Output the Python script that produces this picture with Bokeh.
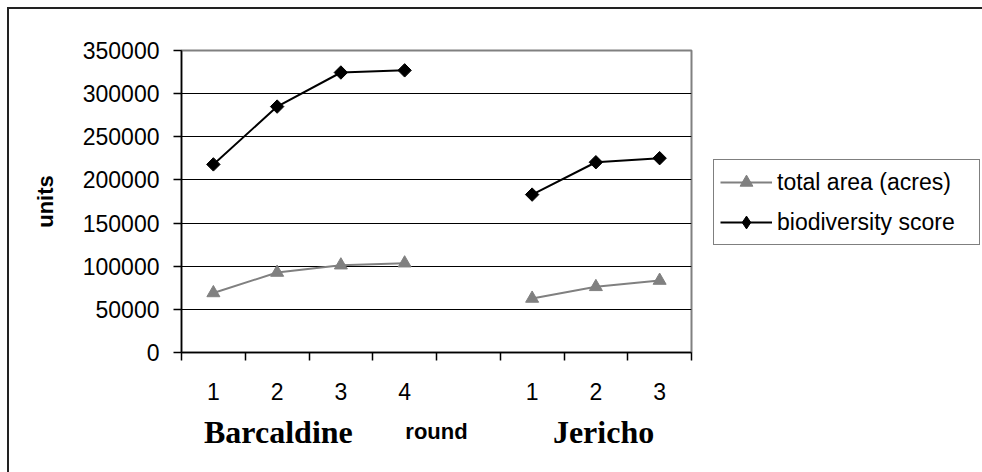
from bokeh.plotting import figure
from bokeh.layouts import row
from bokeh.models import (FixedTicker, Legend, LegendItem, LinearAxis,
                          BasicTickFormatter, Range1d, ColumnDataSource)
from bokeh.embed import file_html
from bokeh.resources import INLINE
import math

# ---- data ----
round_labels = ["1", "2", "3", "4", "", "1", "2", "3"]
total_area = [69000, 92700, 101200, 103500, None, 62600, 76100, 83400]
biodiversity = [218000, 285000, 324500, 327000, None, 183000, 220500, 225200]
y_ticks = [0, 50000, 100000, 150000, 200000, 250000, 300000, 350000]
group_names = ["Barcaldine", "Jericho"]
series_names = ["total area (acres)", "biodiversity score"]

nan = float("nan")
xs = [i + 0.5 for i in range(len(round_labels))]
src = ColumnDataSource(dict(
    x=xs,
    area=[nan if v is None else v for v in total_area],
    bio=[nan if v is None else v for v in biodiversity],
))

SANS = "Liberation Sans"
SERIF = "Liberation Serif"
GREY = "#808080"
TICK_FONT = "23px"

p = figure(width=693, height=472, output_backend="svg", toolbar_location=None,
           x_range=Range1d(0, len(round_labels)), y_range=Range1d(0, 350000),
           min_border_left=181, min_border_right=2, min_border_top=50,
           min_border_bottom=120)
p.background_fill_color = "white"
p.border_fill_color = None
p.outline_line_color = GREY
p.outline_line_width = 2

# x axis: labels at category centres, tick marks between categories
xa = p.xaxis[0]
xa.ticker = FixedTicker(ticks=xs, minor_ticks=list(range(len(round_labels) + 1)))
xa.major_label_overrides = {x: lab for x, lab in zip(xs, round_labels)}
xa.major_tick_out = 0
xa.major_tick_in = 0
xa.minor_tick_out = 8
xa.minor_tick_in = 0
xa.minor_tick_line_color = "black"
xa.minor_tick_line_width = 1.5
xa.axis_line_color = "black"
xa.axis_line_width = 1.5
xa.major_label_standoff = 22
xa.major_label_text_font = SANS
xa.major_label_text_font_size = TICK_FONT
xa.major_label_text_color = "black"
xa.axis_label = "round"
xa.axis_label_text_font = SANS
xa.axis_label_text_font_size = "22px"
xa.axis_label_text_font_style = "bold"
xa.axis_label_text_color = "black"
xa.axis_label_standoff = 16

# group names under the round numbers
ga = LinearAxis(ticker=FixedTicker(ticks=[1.52, 6.62]),
                major_label_overrides={1.52: group_names[0], 6.62: group_names[1]},
                axis_line_color=None, major_tick_line_color=None,
                minor_tick_line_color=None, major_tick_out=0, major_tick_in=0,
                major_label_standoff=-33,
                major_label_text_font=SERIF, major_label_text_font_size="32px",
                major_label_text_font_style="bold", major_label_text_color="black")
p.add_layout(ga, "below")

ya = p.yaxis[0]
ya.ticker = FixedTicker(ticks=y_ticks)
ya.formatter = BasicTickFormatter(use_scientific=False)
ya.major_tick_out = 8
ya.major_tick_in = 0
ya.minor_tick_line_color = None
ya.major_tick_line_color = "black"
ya.major_tick_line_width = 1.5
ya.axis_line_color = "black"
ya.axis_line_width = 1.5
ya.major_label_standoff = 14
ya.major_label_text_font = SANS
ya.major_label_text_font_size = TICK_FONT
ya.major_label_text_color = "black"
ya.axis_label = "units"
ya.axis_label_text_font = SANS
ya.axis_label_text_font_size = "22px"
ya.axis_label_text_font_style = "bold"
ya.axis_label_text_color = "black"
ya.axis_label_standoff = 22

p.xgrid.grid_line_color = None
p.ygrid.ticker = FixedTicker(ticks=y_ticks[1:])
p.ygrid.grid_line_color = "black"
p.ygrid.grid_line_width = 1

# series
p.line("x", "area", source=src, line_color=GREY, line_width=2)
p.scatter("x", "area", source=src, marker="triangle", size=13,
          fill_color=GREY, line_color=GREY)
p.line("x", "bio", source=src, line_color="black", line_width=2)
p.scatter("x", "bio", source=src, marker="square", angle=math.pi / 4,
          size=9.5, fill_color="black", line_color="black")

# legend panel to the right of the plot (same series; its range keeps marks out of view)
q = figure(width=289, height=472, output_backend="svg", toolbar_location=None,
           x_range=Range1d(100, 101), y_range=Range1d(0, 350000),
           x_axis_location=None, y_axis_location=None, min_border=0)
q.grid.grid_line_color = None
q.outline_line_color = None
q.background_fill_color = None
q.border_fill_color = None
la = q.line("x", "area", source=src, line_color=GREY, line_width=2)
ma = q.scatter("x", "area", source=src, marker="triangle", size=13,
               fill_color=GREY, line_color=GREY)
lb = q.line("x", "bio", source=src, line_color="black", line_width=2)
mb = q.scatter("x", "bio", source=src, marker="diamond", size=15,
               fill_color="black", line_color="black")

legend = Legend(items=[LegendItem(label=series_names[0], renderers=[la, ma]),
                       LegendItem(label=series_names[1], renderers=[lb, mb])],
                location=(20, 107), orientation="vertical")
legend.label_text_font = SANS
legend.label_text_font_size = TICK_FONT
legend.label_text_color = "black"
legend.glyph_width = 52
legend.glyph_height = 32
legend.label_height = 32
legend.label_width = 196
legend.label_standoff = 5
legend.padding = 6
legend.spacing = 8
legend.margin = 0
legend.border_line_color = "black"
legend.border_line_width = 1
legend.background_fill_color = "white"
legend.background_fill_alpha = 1
q.add_layout(legend, "center")

layout = row(p, q)
# outer chart border (only its top and left edges fall inside the picture)
layout.styles = {"box-shadow": "inset 7px 7px 0 0 white, inset 9px 9px 0 0 #222222",
                 "background-color": "white"}

open("out.html", "w").write(file_html(layout, INLINE))
